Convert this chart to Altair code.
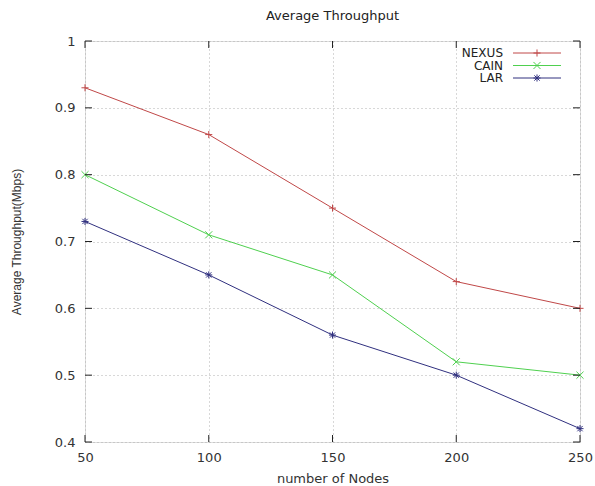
import altair as alt
import pandas as pd

nodes = [50, 100, 150, 200, 250]
nexus = [0.93, 0.86, 0.75, 0.64, 0.60]
cain = [0.80, 0.71, 0.65, 0.52, 0.50]
lar = [0.73, 0.65, 0.56, 0.50, 0.42]
series = ["NEXUS", "CAIN", "LAR"]
colors = ["#c04848", "#4fd04f", "#30307f"]
shapes = [
    "M-1,0L1,0M0,-1L0,1",
    "M-1,-1L1,1M-1,1L1,-1",
    "M-1,0L1,0M0,-1L0,1M-0.75,-0.75L0.75,0.75M-0.75,0.75L0.75,-0.75",
]
x_ticks = [50, 100, 150, 200, 250]
y_ticks = [0.4, 0.5, 0.6, 0.7, 0.8, 0.9, 1.0]

rows = []
for name, vals in zip(series, [nexus, cain, lar]):
    for n, v in zip(nodes, vals):
        rows.append({"nodes": n, "value": v, "series": name})
df = pd.DataFrame(rows)
leg = pd.DataFrame({"series": series})
xt = pd.DataFrame({"xt": x_ticks})
yt = pd.DataFrame({"yt": y_ticks})

W, H = 495, 401
FONT = "DejaVu Sans"

xs = alt.Scale(domain=[50, 250], nice=False, zero=False)
ys = alt.Scale(domain=[0.4, 1.0], nice=False, zero=False)
color = alt.Color("series:N", scale=alt.Scale(domain=series, range=colors), legend=None)
shape = alt.Shape("series:N", scale=alt.Scale(domain=series, range=shapes), legend=None)

base = alt.Chart(df)
lines = base.mark_line(strokeWidth=1).encode(
    x=alt.X("nodes:Q", scale=xs,
            axis=alt.Axis(values=x_ticks, title="number of Nodes", grid=True,
                          gridDash=[1, 3], gridColor="#b0b0b0", ticks=False,
                          domain=False, labelPadding=9, titlePadding=8,
                          labelFlush=False, labelBound=False,
                          labelFontSize=13, titleFontSize=13, labelColor="#333",
                          titleColor="#333", titleFontWeight="normal",
                          labelFont=FONT, titleFont=FONT)),
    y=alt.Y("value:Q", scale=ys,
            axis=alt.Axis(values=y_ticks, title="Average Throughput(Mbps)", grid=True,
                          gridDash=[1, 3], gridColor="#b0b0b0", ticks=False,
                          domain=False, labelPadding=10, titlePadding=31,
                          labelFlush=False,
                          labelFontSize=13, titleFontSize=12, labelColor="#333",
                          titleColor="#333", titleFontWeight="normal",
                          labelFont=FONT, titleFont="Liberation Sans",
                          format="~g")),
    color=color,
    detail="series:N",
)
points = base.mark_point(filled=False, strokeWidth=1, size=50, opacity=1).encode(
    x=alt.X("nodes:Q", scale=xs),
    y=alt.Y("value:Q", scale=ys),
    color=color,
    shape=shape,
)

tk = dict(color="#222", strokeWidth=1)
xb = alt.Chart(xt).mark_rule(**tk).encode(
    x=alt.X("xt:Q", scale=xs), y=alt.value(H), y2=alt.value(H - 7))
xtop = alt.Chart(xt).mark_rule(**tk).encode(
    x=alt.X("xt:Q", scale=xs), y=alt.value(0), y2=alt.value(7))
yl = alt.Chart(yt).mark_rule(**tk).encode(
    y=alt.Y("yt:Q", scale=ys), x=alt.value(0), x2=alt.value(7))
yr = alt.Chart(yt).mark_rule(**tk).encode(
    y=alt.Y("yt:Q", scale=ys), x=alt.value(W), x2=alt.value(W - 7))

main = alt.layer(lines, points, xb, xtop, yl, yr)

ly = alt.Y("series:N", sort=series,
           scale=alt.Scale(type="point", domain=series, range=[12, 37], padding=0),
           axis=None)
lt = alt.Chart(leg).mark_text(align="right", baseline="middle", fontSize=12,
                              font=FONT, color="#222").encode(
    x=alt.value(418), y=ly, text="series:N")
lr = alt.Chart(leg).mark_rule(strokeWidth=1).encode(
    x=alt.value(428), x2=alt.value(476), y=ly, color=color)
lp = alt.Chart(leg).mark_point(filled=False, strokeWidth=1, size=50, opacity=1).encode(
    x=alt.value(452), y=ly, color=color, shape=shape)
legend = alt.layer(lt, lr, lp)

chart = alt.layer(main, legend).resolve_scale(y="independent").properties(
    width=W, height=H,
    title=alt.TitleParams("Average Throughput", fontSize=13, font=FONT,
                          fontWeight="normal", color="#222", offset=12),
    autosize=alt.AutoSizeParams(type="none"),
    padding={"left": 85, "top": 41, "right": 15, "bottom": 44},
).configure_view(stroke="#111", strokeWidth=1.2).configure(background="white")

chart.save("out.html", embed_options={"renderer": "svg", "actions": False})
